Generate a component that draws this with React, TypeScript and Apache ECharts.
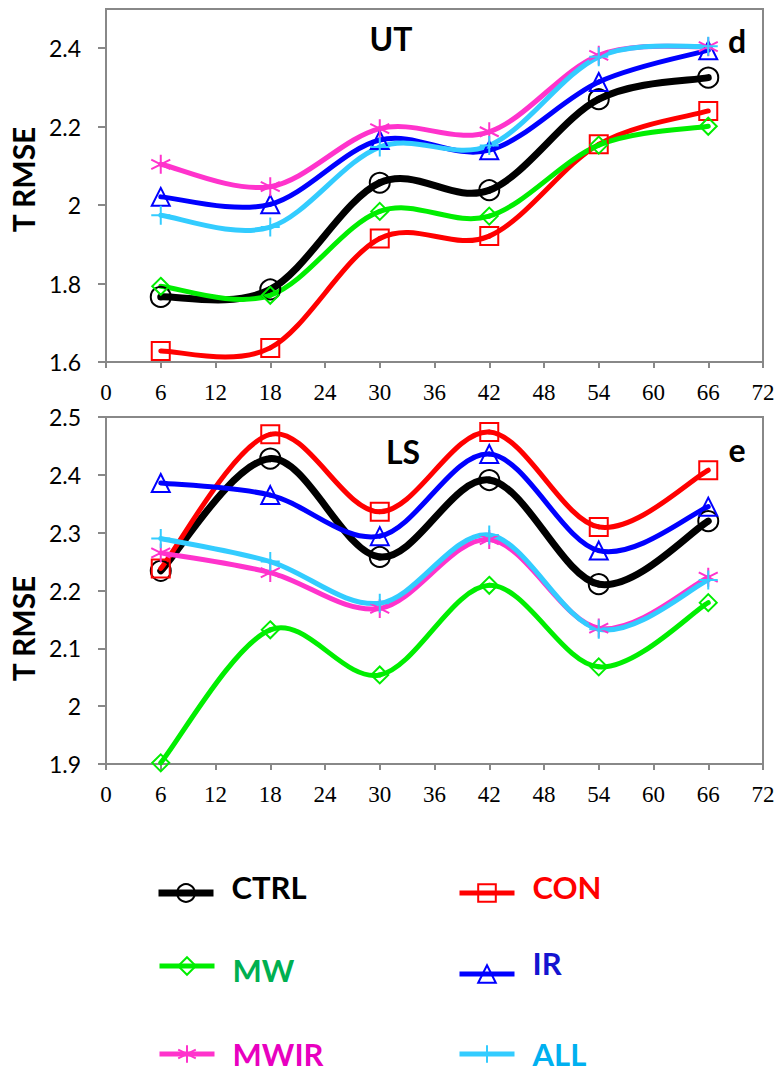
import React, { useEffect, useRef } from 'react';
import * as echarts from 'echarts';

// Forecast hours
const hours = [6, 18, 30, 42, 54, 66];

// UT panel (d) T RMSE
const utCTRL = [1.766, 1.785, 2.057, 2.038, 2.27, 2.325];
const utCON = [1.628, 1.636, 1.915, 1.921, 2.155, 2.24];
const utMW = [1.793, 1.77, 1.984, 1.972, 2.153, 2.201];
const utIR = [2.021, 2.002, 2.166, 2.14, 2.314, 2.395];
const utMWIR = [2.104, 2.047, 2.195, 2.187, 2.382, 2.404];
const utALL = [1.974, 1.944, 2.148, 2.152, 2.378, 2.405];

// LS panel (e) T RMSE
const lsCTRL = [2.234, 2.428, 2.258, 2.391, 2.211, 2.32];
const lsCON = [2.238, 2.47, 2.336, 2.474, 2.31, 2.408];
const lsMW = [1.902, 2.132, 2.054, 2.209, 2.068, 2.179];
const lsIR = [2.386, 2.365, 2.294, 2.436, 2.269, 2.345];
const lsMWIR = [2.265, 2.231, 2.169, 2.288, 2.135, 2.223];
const lsALL = [2.29, 2.25, 2.178, 2.296, 2.133, 2.218];

const names = ['CTRL', 'CON', 'MW', 'IR', 'MWIR', 'ALL'];
const utValues = [utCTRL, utCON, utMW, utIR, utMWIR, utALL];
const lsValues = [lsCTRL, lsCON, lsMW, lsIR, lsMWIR, lsALL];

const ASTERISK = 'path://M10,0L10,20M1.34,5L18.66,15M1.34,15L18.66,5';
const PLUS = 'path://M10,0L10,20M0,10L20,10';

const styles = [
  { color: '#000000', text: '#000000', symbol: 'circle', size: 20, width: 7 },
  { color: '#FF0000', text: '#FF0000', symbol: 'rect', size: 18, width: 5 },
  { color: '#00EE00', text: '#00B050', symbol: 'diamond', size: 17, width: 5 },
  { color: '#0000FF', text: '#1414D0', symbol: 'triangle', size: 18, width: 5 },
  { color: '#FF33CC', text: '#E800C0', symbol: ASTERISK, size: 19, width: 5 },
  { color: '#33CCFF', text: '#00B0F0', symbol: PLUS, size: 19, width: 5 },
];

// legend anchor: [left, line centre y, text shift (negative = up)]
const legendPos = [
  [155, 893, -6],
  [457, 893, -6],
  [157, 974, 4],
  [457, 974, -11],
  [157, 1054, 0],
  [457, 1054, 0],
];

const grayAxis = '#888888';
const sans = 'Lato, "Open Sans", sans-serif';

function makeXAxis(gridIndex: number) {
  return {
    type: 'value',
    gridIndex,
    min: 0,
    max: 72,
    interval: 6,
    axisLine: { show: true, lineStyle: { color: grayAxis, width: 2 } },
    axisTick: { show: true, length: 6, lineStyle: { color: grayAxis, width: 2 } },
    axisLabel: {
      color: '#000',
      fontFamily: '"Liberation Serif", serif',
      fontSize: 23,
      margin: 19,
    },
    splitLine: { show: false },
  };
}

function makeYAxis(gridIndex: number, min: number, max: number, interval: number, showMax: boolean, nameShift: number) {
  return {
    type: 'value',
    gridIndex,
    min,
    max,
    interval,
    name: 'T RMSE',
    nameLocation: 'middle',
    nameRotate: 90,
    nameGap: 58,
    nameTextStyle: {
      color: '#000',
      fontFamily: sans,
      fontWeight: 'bold',
      fontSize: 30,
      padding: nameShift >= 0 ? [0, 2 * nameShift, 0, 0] : [0, 0, 0, -2 * nameShift],
    },
    axisLine: { show: true, lineStyle: { color: grayAxis, width: 2 } },
    axisTick: { show: true, length: 8, lineStyle: { color: grayAxis, width: 2 } },
    axisLabel: {
      color: '#000',
      fontFamily: sans,
      fontSize: 23,
      margin: 25,
      showMaxLabel: showMax,
    },
    splitLine: { show: false },
  };
}

// Excel-like smoothed line (Catmull-Rom, tension 1/6) drawn through the data via the axis scales
function makeCurve(vals: number[], g: number, s: any) {
  const n = hours.length;
  return {
    type: 'custom',
    xAxisIndex: g,
    yAxisIndex: g,
    silent: true,
    data: hours.map((h, i) => [h, vals[i]]),
    encode: { x: 0, y: 1 },
    renderItem: (params: any, api: any) => {
      const i = params.dataIndex;
      if (i >= n - 1) return null;
      const p = (j: number) => {
        const k = Math.max(0, Math.min(n - 1, j));
        return api.coord([hours[k], vals[k]]);
      };
      const p0 = p(i - 1);
      const p1 = p(i);
      const p2 = p(i + 1);
      const p3 = p(i + 2);
      const t = 1 / 6;
      return {
        type: 'bezierCurve',
        shape: {
          x1: p1[0],
          y1: p1[1],
          x2: p2[0],
          y2: p2[1],
          cpx1: p1[0] + (p2[0] - p0[0]) * t,
          cpy1: p1[1] + (p2[1] - p0[1]) * t,
          cpx2: p2[0] - (p3[0] - p1[0]) * t,
          cpy2: p2[1] - (p3[1] - p1[1]) * t,
        },
        style: { stroke: s.color, lineWidth: s.width, fill: null, lineCap: 'round' },
      };
    },
  };
}

export default function App() {
  const ref = useRef<HTMLDivElement>(null);
  useEffect(() => {
    if (!ref.current) return;
    const chart = echarts.init(ref.current, null, { renderer: 'svg' });
    const series: any[] = [];
    names.forEach((name, k) => {
      const s = styles[k];
      [utValues[k], lsValues[k]].forEach((vals, g) => {
        series.push(makeCurve(vals, g, s));
        series.push({
          type: 'line',
          name,
          xAxisIndex: g,
          yAxisIndex: g,
          data: hours.map((h, i) => [h, vals[i]]),
          symbol: s.symbol,
          symbolSize: s.size,
          showAllSymbol: true,
          lineStyle: { color: s.color, width: s.width, opacity: 0 },
          itemStyle: { color: 'none', borderColor: s.color, borderWidth: 2 },
          emphasis: { disabled: true },
          silent: true,
        });
      });
    });
    const legends = names.map((name, k) => {
      const s = styles[k];
      const [lx, ly, dy] = legendPos[k];
      const lh = 31 + 2 * Math.abs(dy);
      return {
        data: [name],
        left: lx,
        top: ly - lh / 2,
        orient: 'horizontal',
        padding: 0,
        itemWidth: 55,
        itemHeight: 22,
        selectedMode: false,
        formatter: '{t|{name}}',
        lineStyle: { width: s.width, color: s.color, opacity: 1 },
        itemStyle: { color: 'none', borderColor: s.color, borderWidth: 2 },
        textStyle: {
          color: s.text,
          fontFamily: sans,
          fontWeight: 'bold',
          fontSize: 31,
          rich: {
            t: {
              color: s.text,
              fontFamily: sans,
              fontWeight: 'bold',
              fontSize: 31,
              lineHeight: lh,
              verticalAlign: dy < 0 ? 'top' : dy > 0 ? 'bottom' : 'middle',
              padding: [0, 0, 0, 13],
            },
          },
        },
      };
    });
    const titleStyle = { fill: '#000', fontFamily: sans, fontWeight: 'bold', fontSize: 32, textAlign: 'center', textVerticalAlign: 'middle' };
    chart.setOption({
      animation: false,
      backgroundColor: '#fff',
      grid: [
        { left: 102, right: 17, top: 9, height: 353, show: true, borderColor: grayAxis, borderWidth: 2, backgroundColor: 'transparent' },
        { left: 102, right: 17, top: 417, height: 347, show: true, borderColor: grayAxis, borderWidth: 2, backgroundColor: 'transparent' },
      ],
      xAxis: [makeXAxis(0), makeXAxis(1)],
      yAxis: [makeYAxis(0, 1.6, 2.5, 0.2, false, -6), makeYAxis(1, 1.9, 2.5, 0.1, true, 38)],
      legend: legends,
      series,
      graphic: [
        { type: 'text', x: 391, y: 38, style: { ...titleStyle, text: 'UT' } },
        { type: 'text', x: 737, y: 40, style: { ...titleStyle, text: 'd' } },
        { type: 'text', x: 403, y: 451, style: { ...titleStyle, text: 'LS' } },
        { type: 'text', x: 737, y: 449, style: { ...titleStyle, text: 'e' } },
      ],
    });
    return () => chart.dispose();
  }, []);
  return (
    <div
      ref={ref}
      style={{ position: 'fixed', left: 0, top: 0, width: 780, height: 1069, background: '#fff' }}
    />
  );
}
